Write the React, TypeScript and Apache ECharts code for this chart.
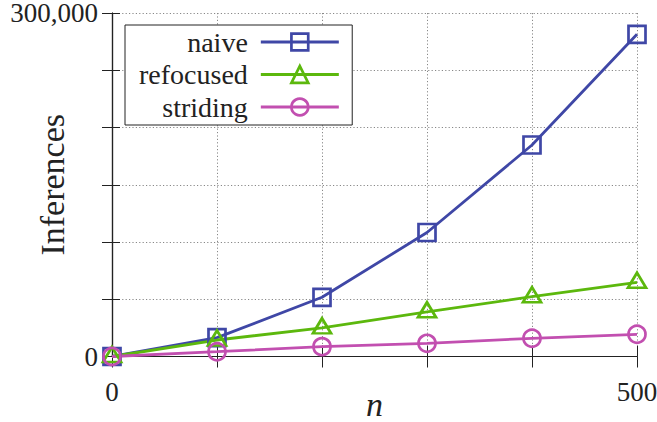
import React, { useEffect, useRef } from "react";
import * as echarts from "echarts";

const nValues = [0, 100, 200, 300, 400, 500];
const naive = [0, 16500, 51700, 108300, 184700, 281400];
const refocused = [0, 14400, 25000, 39000, 52200, 64800];
const striding = [0, 4200, 8600, 11500, 15900, 19400];
const xTickLabels = ["0", "500"];
const yTickLabels = ["0", "300,000"];
const seriesNames = ["naive", "refocused", "striding"];

const FONT = "'Liberation Serif', 'Times New Roman', Tinos, serif";
const BLUE = "#3f47a6";
const GREEN = "#5cb80d";
const MAGENTA = "#c24fb0";

export default function App() {
  const ref = useRef<HTMLDivElement>(null);
  useEffect(() => {
    document.body.style.margin = "0";
    const chart = echarts.init(ref.current!, null, { renderer: "svg" });
    const toPairs = (ys: number[]) => nValues.map((x, i) => [x, ys[i]]);
    const mk = (name: string, ys: number[], color: string, symbol: string, size: any, offset?: number[]) => ({
      name,
      type: "line",
      data: toPairs(ys),
      clip: false,
      symbol,
      symbolSize: size,
      symbolOffset: offset || [0, 0],
      showAllSymbol: true,
      lineStyle: { color, width: 2.8 },
      itemStyle: { color: "rgba(255,255,255,0)", borderColor: color, borderWidth: 2.7 },
      emphasis: { disabled: true },
    });
    const labelStyle = { fontFamily: FONT, fontSize: 27, color: "#222" };
    const gridLine = { show: true, lineStyle: { color: "#888", type: [1.2, 2.2], width: 1 } };
    chart.setOption({
      animation: false,
      grid: { left: 112, right: 20, top: 13, bottom: 65.5, containLabel: false, outerBoundsMode: "none" },
      legend: {
        show: true,
        orient: "vertical",
        align: "right",
        left: 125,
        top: 25,
        padding: [3, 12, 4, 14],
        itemGap: 4.5,
        itemWidth: 78,
        itemHeight: 21,
        borderColor: "#222",
        borderWidth: 1,
        backgroundColor: "#fff",
        selectedMode: false,
        lineStyle: { width: 2.8 },
        itemStyle: { borderWidth: 2.7 },
        textStyle: { fontFamily: FONT, fontSize: 28, color: "#222", padding: [0, 8, 0, 0] },
        data: seriesNames,
      },
      xAxis: [
        {
          type: "value",
          min: 0,
          max: 500,
          interval: 100,
          name: "n",
          nameLocation: "middle",
          nameGap: 34,
          nameMoveOverlap: false,
          nameTextStyle: { fontFamily: FONT, fontSize: 34, lineHeight: 28, fontStyle: "italic", color: "#222" },
          axisLine: { show: true, lineStyle: { color: "#222", width: 1.2 } },
          axisTick: { show: true, inside: true, length: 11, lineStyle: { color: "#222", width: 1 } },
          axisLabel: {
            ...labelStyle,
            margin: 22,
            hideOverlap: false,
            formatter: (v: number) => (v === 0 ? xTickLabels[0] : v === 500 ? xTickLabels[1] : ""),
          },
          splitLine: gridLine,
        },
        {
          type: "value",
          position: "top",
          min: 0,
          max: 500,
          interval: 100,
          axisLine: { show: true, lineStyle: { color: "#222", width: 1.2 } },
          axisTick: { show: true, inside: true, length: 11, lineStyle: { color: "#222", width: 1 } },
          axisLabel: { show: false },
          splitLine: { show: false },
        },
      ],
      yAxis: [
        {
          type: "value",
          min: 0,
          max: 300000,
          interval: 50000,
          name: "Inferences",
          nameLocation: "middle",
          nameGap: 43,
          nameMoveOverlap: false,
          nameTextStyle: { fontFamily: FONT, fontSize: 34, color: "#222" },
          axisLine: { show: true, lineStyle: { color: "#222", width: 1.2 } },
          axisTick: { show: true, inside: true, length: 8, lineStyle: { color: "#222", width: 1 } },
          axisLabel: {
            ...labelStyle,
            margin: 14,
            lineHeight: 22,
            hideOverlap: false,
            formatter: (v: number) => (v === 0 ? yTickLabels[0] : v === 300000 ? yTickLabels[1] : ""),
          },
          splitLine: gridLine,
        },
        {
          type: "value",
          position: "right",
          min: 0,
          max: 300000,
          interval: 50000,
          axisLine: { show: true, lineStyle: { color: "#222", width: 1.2 } },
          axisTick: { show: true, inside: true, length: 10, lineStyle: { color: "#222", width: 1 } },
          axisLabel: { show: false },
          splitLine: { show: false },
        },
      ],
      series: [
        mk(seriesNames[0], naive, BLUE, "rect", 17),
        mk(seriesNames[1], refocused, GREEN, "triangle", [18, 15], [0, -2]),
        mk(seriesNames[2], striding, MAGENTA, "circle", 17),
      ],
    });
    return () => chart.dispose();
  }, []);
  return <div ref={ref} style={{ width: 657, height: 422 }} />;
}
